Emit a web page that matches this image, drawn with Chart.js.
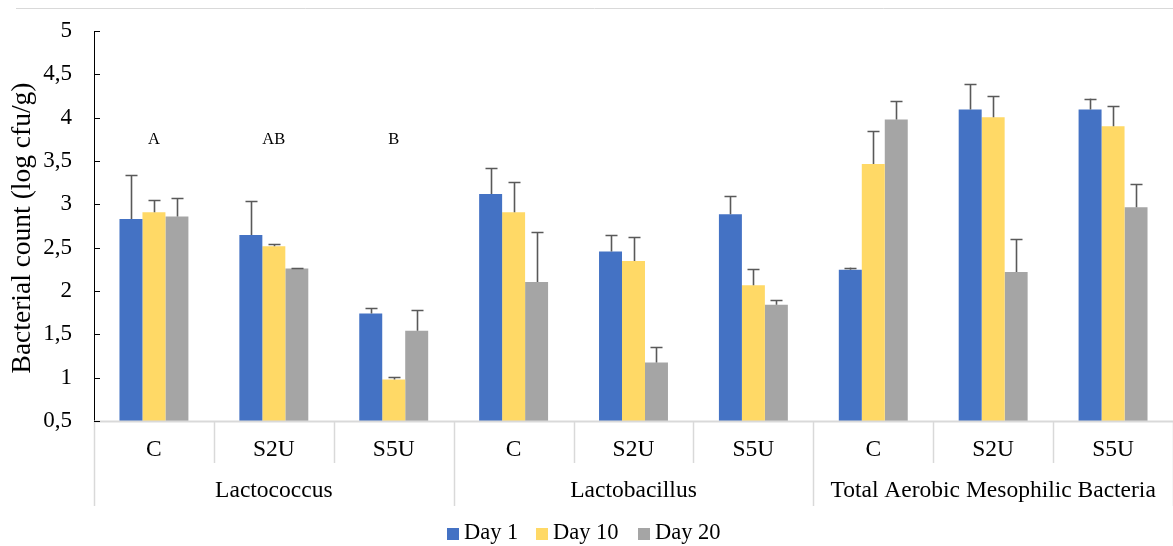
<!DOCTYPE html>
<html>
<head>
<meta charset="utf-8">
<script src="https://cdn.jsdelivr.net/npm/chart.js@4/dist/chart.umd.min.js"></script>
<style>
html,body{margin:0;padding:0;background:#fff;}
canvas{display:block;}
</style>
</head>
<body>
<canvas id="c" width="1173" height="546"></canvas>
<script>
const groups = ['Lactococcus', 'Lactobacillus', 'Total Aerobic Mesophilic Bacteria'];
const treatments = ['C', 'S2U', 'S5U', 'C', 'S2U', 'S5U', 'C', 'S2U', 'S5U'];
const seriesNames = ['Day 1', 'Day 10', 'Day 20'];
const day1  = [2.83, 2.645, 1.74, 3.12, 2.455, 2.885, 2.245, 4.095, 4.095];
const day10 = [2.91, 2.515, 0.98, 2.91, 2.345, 2.065, 3.465, 4.005, 3.90];
const day20 = [2.86, 2.26, 1.54, 2.105, 1.175, 1.84, 3.98, 2.22, 2.965];
const err1  = [0.51, 0.395, 0.06, 0.30, 0.19, 0.215, 0.025, 0.295, 0.125];
const err10 = [0.14, 0.025, 0.03, 0.345, 0.275, 0.185, 0.385, 0.245, 0.23];
const err20 = [0.21, 0.005, 0.24, 0.575, 0.175, 0.06, 0.21, 0.38, 0.265];
const sigLetters = ['A', 'AB', 'B', '', '', '', '', '', ''];
const yTicks = [0.5, 1, 1.5, 2, 2.5, 3, 3.5, 4, 4.5, 5];

const colors = ['#4472C4', '#FFD966', '#A5A5A5'];
const errs = [err1, err10, err20];
const SERIF = '"Liberation Serif", "Times New Roman", serif';

const overlay = {
  id: 'overlay',
  afterDatasetsDraw(chart) {
    const ctx = chart.ctx;
    const ys = chart.scales.y;
    ctx.save();
    ctx.strokeStyle = '#595959';
    ctx.lineWidth = 1.6;
    chart.data.datasets.forEach((ds, di) => {
      const meta = chart.getDatasetMeta(di);
      meta.data.forEach((bar, i) => {
        const top = ys.getPixelForValue(ds.data[i] + errs[di][i]);
        const base = ys.getPixelForValue(ds.data[i]);
        const x = Math.round(bar.x) + 0.5;
        ctx.beginPath();
        ctx.moveTo(x, base);
        ctx.lineTo(x, top);
        ctx.moveTo(x - 6, Math.round(top) + 0.5);
        ctx.lineTo(x + 6, Math.round(top) + 0.5);
        ctx.stroke();
      });
    });
    ctx.restore();
  },
  afterDraw(chart) {
    const ctx = chart.ctx;
    const xs = chart.scales.x;
    const ys = chart.scales.y;
    const area = chart.chartArea;
    ctx.save();
    ctx.strokeStyle = '#d9d9d9';
    ctx.lineWidth = 1;
    ctx.beginPath();
    ctx.moveTo(16, 8.5);
    ctx.lineTo(1173, 8.5);
    ctx.stroke();
    ctx.lineWidth = 2;
    ctx.beginPath();
    ctx.moveTo(area.left, area.bottom + 0.5);
    ctx.lineTo(area.right, area.bottom + 0.5);
    ctx.stroke();
    const n = treatments.length;
    const step = (area.right - area.left) / n;
    ctx.lineWidth = 1.5;
    for (let i = 0; i <= n; i++) {
      const x = Math.round(area.left + i * step) + 0.5;
      const long = (i % 3 === 0);
      ctx.beginPath();
      ctx.moveTo(x, area.bottom);
      ctx.lineTo(x, long ? 506 : 463);
      ctx.stroke();
    }
    ctx.strokeStyle = '#000';
    ctx.lineWidth = 1;
    yTicks.forEach(v => {
      const y = Math.round(ys.getPixelForValue(v)) + 0.5;
      ctx.beginPath();
      ctx.moveTo(area.left, y);
      ctx.lineTo(area.left + 6, y);
      ctx.stroke();
    });
    ctx.fillStyle = '#000';
    ctx.textAlign = 'center';
    ctx.textBaseline = 'middle';
    ctx.font = '23.5px ' + SERIF;
    treatments.forEach((t, i) => {
      ctx.fillText(t, xs.getPixelForValue(i), 450);
    });
    groups.forEach((g, gi) => {
      const cx = (xs.getPixelForValue(gi * 3) + xs.getPixelForValue(gi * 3 + 2)) / 2;
      ctx.fillText(g, cx, 491);
    });
    ctx.font = '16.5px ' + SERIF;
    sigLetters.forEach((s, i) => {
      if (s) ctx.fillText(s, xs.getPixelForValue(i), ys.getPixelForValue(3.75));
    });
    ctx.save();
    ctx.translate(23, 228);
    ctx.rotate(-Math.PI / 2);
    ctx.font = '27.5px ' + SERIF;
    ctx.fillText('Bacterial count (log cfu/g)', 0, 0);
    ctx.restore();
    ctx.font = '22.5px ' + SERIF;
    ctx.textAlign = 'left';
    const boxX = [447, 536, 638];
    seriesNames.forEach((s, i) => {
      ctx.fillStyle = colors[i];
      ctx.fillRect(boxX[i], 528, 12, 12);
      ctx.fillStyle = '#000';
      ctx.fillText(s, boxX[i] + 17, 533);
    });
    ctx.restore();
  }
};

new Chart(document.getElementById('c'), {
  type: 'bar',
  data: {
    labels: treatments,
    datasets: [
      { label: seriesNames[0], data: day1, backgroundColor: colors[0] },
      { label: seriesNames[1], data: day10, backgroundColor: colors[1] },
      { label: seriesNames[2], data: day20, backgroundColor: colors[2] }
    ]
  },
  options: {
    responsive: false,
    animation: false,
    devicePixelRatio: 1,
    layout: { padding: { left: 0, top: 31, right: 0, bottom: 125 } },
    datasets: { bar: { categoryPercentage: 0.575, barPercentage: 1.0, borderWidth: 0 } },
    plugins: { legend: { display: false }, tooltip: { enabled: false } },
    scales: {
      x: { type: 'category', display: false },
      y: {
        min: 0.5, max: 5,
        afterBuildTicks(scale) { scale.ticks = yTicks.map(v => ({ value: v })); },
        afterFit(scale) {
          scale.width = 94;
          scale.paddingTop = 0;
          scale.paddingBottom = 0;
        },
        grid: { display: false, drawTicks: false },
        border: { display: true, color: '#000', width: 1 },
        ticks: {
          padding: 22,
          color: '#000',
          font: { family: SERIF, size: 23 },
          callback: v => String(v).replace('.', ',')
        }
      }
    }
  },
  plugins: [overlay]
});
</script>
</body>
</html>
